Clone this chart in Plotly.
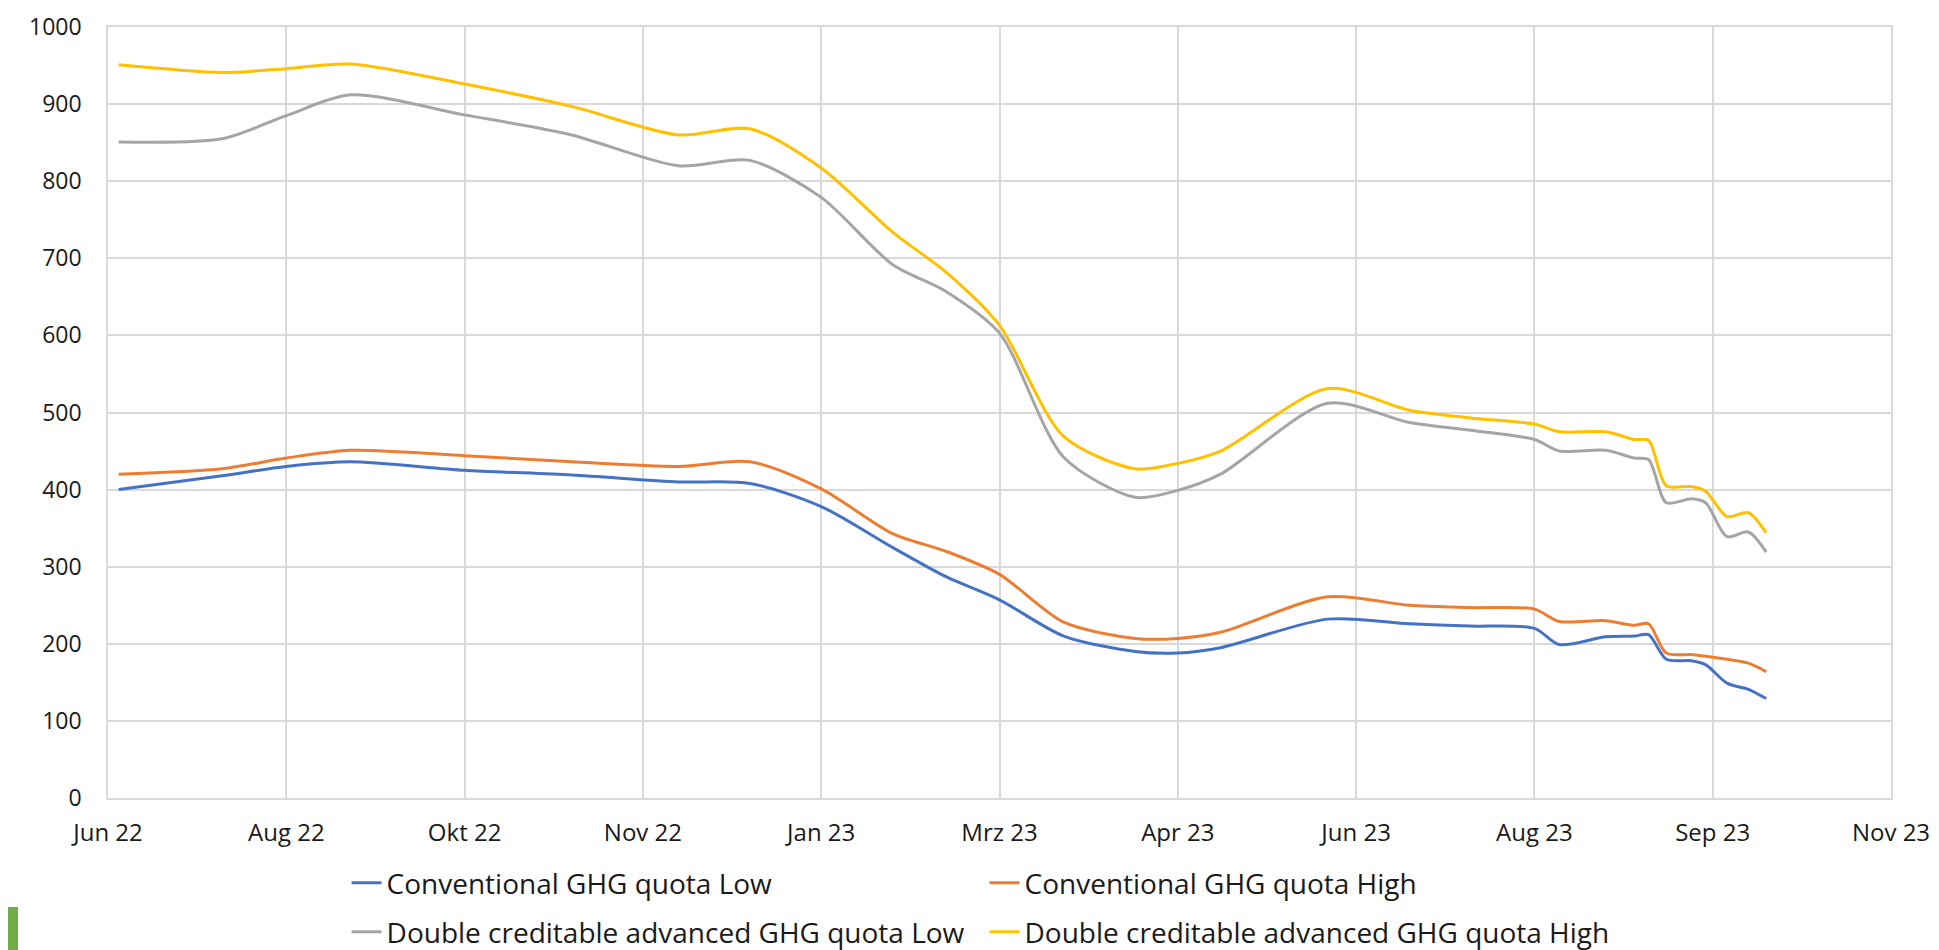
import plotly.graph_objects as go

# data
dates = [
    "2022-07-03", "2022-08-01", "2022-08-19", "2022-09-06", "2022-10-08",
    "2022-11-07", "2022-12-07", "2022-12-27", "2023-01-16", "2023-02-05",
    "2023-02-20", "2023-03-07", "2023-03-25", "2023-04-14", "2023-04-26",
    "2023-05-08", "2023-06-07", "2023-06-30", "2023-07-17", "2023-08-04",
    "2023-08-11", "2023-08-24", "2023-09-01", "2023-09-05", "2023-09-10",
    "2023-09-17", "2023-09-21", "2023-09-27", "2023-10-03", "2023-10-08",
]
conv_low = [400, 418, 430, 436, 425, 419, 410, 408, 378, 325, 287, 257, 210, 190, 188,
            195, 232, 226, 223, 220, 199, 209, 210, 212, 180, 178, 173, 149, 141, 129]
conv_high = [420, 427, 441, 451, 444, 436, 430, 436, 401, 343, 320, 290, 228, 207, 207,
             215, 261, 250, 247, 245, 229, 230, 224, 226, 188, 186, 184, 180, 175, 164]
adv_low = [851, 855, 885, 912, 886, 860, 820, 827, 779, 692, 657, 603, 442, 390, 399,
           420, 512, 487, 477, 465, 450, 451, 441, 439, 383, 388, 383, 339, 345, 319]
adv_high = [951, 941, 946, 952, 926, 897, 860, 868, 817, 734, 682, 613, 469, 427, 434,
            450, 531, 503, 493, 485, 475, 475, 465, 464, 405, 404, 398, 365, 370, 344]

tick_dates = ["2022-06-30", "2022-08-19", "2022-10-08", "2022-11-27", "2023-01-16", "2023-03-07",
              "2023-04-26", "2023-06-15", "2023-08-04", "2023-09-23", "2023-11-12"]
tick_labels = ["Jun 22", "Aug 22", "Okt 22", "Nov 22", "Jan 23", "Mrz 23",
               "Apr 23", "Jun 23", "Aug 23", "Sep 23", "Nov 23"]

series_names = ["Conventional GHG quota Low", "Conventional GHG quota High",
                "Double creditable advanced GHG quota Low", "Double creditable advanced GHG quota High"]
series_colors = ["#4472C4", "#ED7D31", "#A5A5A5", "#FFC000"]
# two legend rows, like the Excel legend
series_legend = ["legend", "legend", "legend2", "legend2"]

FONT = "Open Sans"
W, H = 1939, 950
L, R, T, B = 100, 56, 19, 160
PW, PH = W - L - R, H - T - B

fig = go.Figure()
for name, ys, color, lg in zip(series_names, [conv_low, conv_high, adv_low, adv_high],
                               series_colors, series_legend):
    fig.add_trace(go.Scatter(
        x=dates, y=ys, name=name, mode="lines", legend=lg,
        line=dict(color=color, width=3, shape="spline", smoothing=0.8),
    ))

legend_style = dict(
    orientation="h", x=0.1338, xanchor="left", yanchor="middle",
    entrywidth=0.3578, entrywidthmode="fraction",
    font=dict(size=28, family=FONT, color="#1a1a1a"), itemwidth=30,
    bgcolor="rgba(0,0,0,0)",
)

fig.update_layout(
    width=W, height=H,
    margin=dict(l=L, r=R, t=T, b=B, autoexpand=False),
    paper_bgcolor="white", plot_bgcolor="white",
    font=dict(family=FONT, color="#1a1a1a"),
    legend=dict(y=-(875 - (H - B)) / PH, **legend_style),
    legend2=dict(y=-(924 - (H - B)) / PH, **legend_style),
    showlegend=True,
)
fig.update_xaxes(
    type="date", range=[tick_dates[0], tick_dates[-1]],
    tickmode="array", tickvals=tick_dates, ticktext=tick_labels,
    showgrid=True, gridcolor="#D9D9D9", gridwidth=1.5,
    showline=True, linecolor="#D9D9D9", linewidth=1.5, mirror=True,
    ticks="outside", ticklen=12, tickcolor="white", automargin=False,
    tickfont=dict(size=24, family=FONT, color="#1a1a1a"), zeroline=False,
)
fig.update_yaxes(
    range=[0, 1000], tickmode="linear", tick0=0, dtick=100,
    showgrid=True, gridcolor="#D9D9D9", gridwidth=1.5,
    showline=True, linecolor="#D9D9D9", linewidth=1.5, mirror=True,
    ticks="outside", ticklen=20, tickcolor="white", automargin=False,
    tickfont=dict(size=23, family=FONT, color="#1a1a1a"), zeroline=False,
)

# green edge mark at the bottom-left corner of the screenshot
fig.add_shape(type="rect", xref="paper", yref="paper",
              x0=-L / PW, x1=-(L - 10) / PW, y0=-B / PH, y1=-(899 - (H - B)) / PH,
              fillcolor="#70AD47", line_width=0)

fig.write_html("out.html")
